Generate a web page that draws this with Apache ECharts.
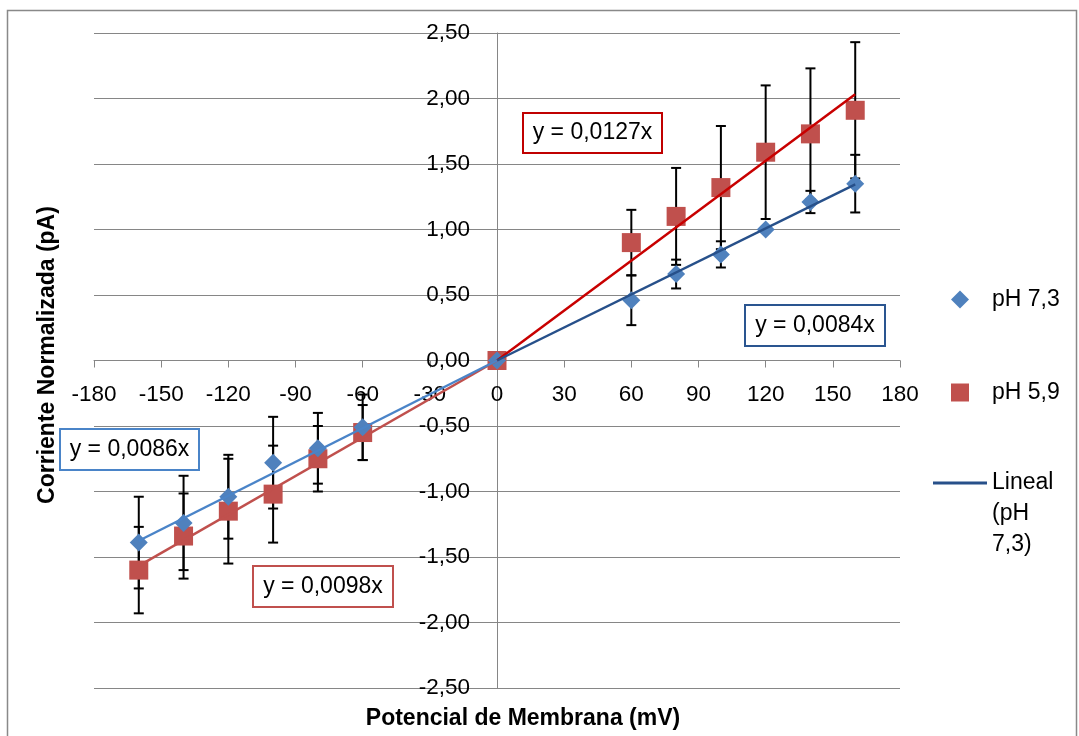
<!DOCTYPE html>
<html>
<head>
<meta charset="utf-8">
<title>Corriente normalizada vs potencial de membrana</title>
<script src="https://cdn.jsdelivr.net/npm/echarts@6/dist/echarts.min.js"></script>
<style>
  html, body { margin: 0; padding: 0; background: #ffffff; }
  #chart { width: 1079px; height: 736px; }
</style>
</head>
<body>
<div id="chart"></div>
<script>
// Membrane potential (mV) of each recording step
const potentials = [-160, -140, -120, -100, -80, -60, 0, 60, 80, 100, 120, 140, 160];

// Mean normalized current (pA) at each potential
const currentPH73 = [-1.39, -1.24, -1.04, -0.78, -0.67, -0.51, 0, 0.46, 0.66, 0.81, 1.00, 1.21, 1.35];
const currentPH59 = [-1.60, -1.34, -1.15, -1.02, -0.75, -0.55, 0, 0.90, 1.10, 1.32, 1.59, 1.73, 1.91];

// Error bar half-length (pA)
const errorPH73 = [0.35, 0.36, 0.32, 0.35, 0.27, 0.25, 0, 0.19, 0.11, 0.10, 0.02, 0.085, 0.22];
const errorPH59 = [0.33, 0.325, 0.40, 0.37, 0.25, 0.21, 0, 0.25, 0.37, 0.47, 0.51, 0.50, 0.52];

// Linear fits through the origin (slope in pA/mV), one per polarity
const fitRangeNegative = [-160, 0];
const fitRangePositive = [0, 160];
const slopePH73Negative = 0.0086;
const slopePH73Positive = 0.0084;
const slopePH59Negative = 0.0098;
const slopePH59Positive = 0.0127;

// Axis ranges
const xRange = [-180, 180];
const xStep = 30;
const yRange = [-2.5, 2.5];
const yStep = 0.5;

const FONT = "'Liberation Sans', Arial, sans-serif";
const GREY = '#868686';
const BLUE = '#4F81BD';
const RED = '#C0504D';
const BLUE_FIT_POS = '#27508A';
const RED_FIT_POS = '#C80000';
const BLUE_FIT_NEG = '#4A84C8';
const RED_FIT_NEG = '#C0504D';

// Plot area (px); both axes cross at the origin, in the middle of it
const PLOT = { left: 94, right: 179, top: 33, bottom: 48 };
const PLOT_W = 1079 - PLOT.left - PLOT.right;
const PLOT_H = 736 - PLOT.top - PLOT.bottom;

const decimalComma = (v, digits) => v.toFixed(digits).replace('.', ',');
const equationText = slope => 'y = ' + decimalComma(slope, 4) + 'x';

const fitLine = (slope, range) => range.map(x => [x, slope * x]);
const withErrors = (ys, errs) => potentials.map((x, i) => [x, ys[i], errs[i]]);

function errorBarItem(params, api) {
  const x = api.value(0);
  const y = api.value(1);
  const e = api.value(2);
  if (!e) return null;
  const top = api.coord([x, y + e]);
  const bottom = api.coord([x, y - e]);
  const cap = 5;
  const style = { stroke: '#000000', lineWidth: 2 };
  return {
    type: 'group',
    children: [
      { type: 'line', shape: { x1: top[0], y1: top[1], x2: bottom[0], y2: bottom[1] }, style: style },
      { type: 'line', shape: { x1: top[0] - cap, y1: top[1], x2: top[0] + cap, y2: top[1] }, style: style },
      { type: 'line', shape: { x1: bottom[0] - cap, y1: bottom[1], x2: bottom[0] + cap, y2: bottom[1] }, style: style }
    ]
  };
}

function equationBox(slope, left, top, width, height, color) {
  return {
    type: 'group',
    x: left,
    y: top,
    z: 100,
    children: [
      { type: 'rect', shape: { x: 0, y: 0, width: width, height: height },
        style: { fill: '#ffffff', stroke: color, lineWidth: 2 } },
      { type: 'text', x: width / 2, y: height / 2,
        style: { text: equationText(slope), font: '23px ' + FONT, fill: '#000000',
                 align: 'center', verticalAlign: 'middle', textAlign: 'center', textVerticalAlign: 'middle' } }
    ]
  };
}

const chart = echarts.init(document.getElementById('chart'), null, { renderer: 'canvas' });

const legendBase = {
  orient: 'vertical',
  padding: 0,
  itemWidth: 54,
  itemHeight: 18,
  selectedMode: false,
  itemStyle: { borderWidth: 0 },
  textStyle: { fontFamily: FONT, fontSize: 23, color: '#000000', lineHeight: 18 }
};

chart.setOption({
  animation: false,
  backgroundColor: '#ffffff',
  textStyle: { fontFamily: FONT },
  grid: { left: PLOT.left, right: PLOT.right, top: PLOT.top, bottom: PLOT.bottom, containLabel: false },
  xAxis: {
    type: 'value',
    min: xRange[0],
    max: xRange[1],
    interval: xStep,
    position: 'bottom',
    offset: -PLOT_H / 2,
    axisLine: { show: true, onZero: false, lineStyle: { color: GREY, width: 1 } },
    axisTick: { show: true, length: 7, lineStyle: { color: GREY, width: 1 } },
    axisLabel: { show: true, color: '#000000', fontSize: 22.5, fontFamily: FONT, margin: 23,
                 showMinLabel: true, showMaxLabel: true, formatter: v => String(v) },
    splitLine: { show: false }
  },
  yAxis: {
    type: 'value',
    min: yRange[0],
    max: yRange[1],
    interval: yStep,
    position: 'left',
    offset: -PLOT_W / 2,
    axisLine: { show: true, onZero: false, lineStyle: { color: GREY, width: 1 } },
    axisTick: { show: true, length: 8, lineStyle: { color: GREY, width: 1 } },
    axisLabel: { show: true, color: '#000000', fontSize: 22.5, fontFamily: FONT, margin: 27,
                 showMinLabel: true, showMaxLabel: true, formatter: v => decimalComma(v, 2) },
    splitLine: { show: true, lineStyle: { color: GREY, width: 1 } }
  },
  legend: [
    Object.assign({}, legendBase, {
      left: 951,
      top: 288,
      data: [{ name: 'pH 7,3', icon: 'path://M9,0L18,9L9,18L0,9Z' }]
    }),
    Object.assign({}, legendBase, {
      left: 951,
      top: 381,
      data: [{ name: 'pH 5,9', icon: 'path://M0,0L18,0L18,18L0,18Z' }]
    }),
    Object.assign({}, legendBase, {
      left: 933,
      top: 467.5,
      itemHeight: 93,
      data: [{ name: 'Lineal (pH 7,3)', icon: 'path://M0,14L54,14L54,17L0,17Z M0,0L0.01,0 M0,93L0.01,93' }],
      formatter: () => 'Lineal\n(pH\n7,3)',
      textStyle: { fontFamily: FONT, fontSize: 23, color: '#000000', lineHeight: 31 }
    })
  ],
  series: [
    {
      name: 'Error pH 5,9',
      type: 'custom',
      renderItem: errorBarItem,
      data: withErrors(currentPH59, errorPH59),
      encode: { x: 0, y: 1 },
      z: 2,
      silent: true
    },
    {
      name: 'Error pH 7,3',
      type: 'custom',
      renderItem: errorBarItem,
      data: withErrors(currentPH73, errorPH73),
      encode: { x: 0, y: 1 },
      z: 2,
      silent: true
    },
    {
      name: 'pH 5,9',
      type: 'scatter',
      symbol: 'rect',
      symbolSize: 19,
      itemStyle: { color: RED, opacity: 1 },
      data: potentials.map((x, i) => [x, currentPH59[i]]),
      z: 3
    },
    {
      name: 'pH 7,3',
      type: 'scatter',
      symbol: 'diamond',
      symbolSize: 18,
      itemStyle: { color: BLUE, opacity: 1 },
      data: potentials.map((x, i) => [x, currentPH73[i]]),
      z: 4
    },
    {
      name: 'Lineal (pH 5,9) +',
      type: 'line',
      symbol: 'none',
      lineStyle: { color: RED_FIT_POS, width: 2.5 },
      itemStyle: { color: RED_FIT_POS },
      data: fitLine(slopePH59Positive, fitRangePositive),
      z: 5
    },
    {
      name: 'Lineal (pH 7,3)',
      type: 'line',
      symbol: 'none',
      lineStyle: { color: BLUE_FIT_POS, width: 2.5 },
      itemStyle: { color: BLUE_FIT_POS },
      data: fitLine(slopePH73Positive, fitRangePositive),
      z: 5
    },
    {
      name: 'Lineal (pH 5,9) -',
      type: 'line',
      symbol: 'none',
      lineStyle: { color: RED_FIT_NEG, width: 2.5 },
      itemStyle: { color: RED_FIT_NEG },
      data: fitLine(slopePH59Negative, fitRangeNegative),
      z: 5
    },
    {
      name: 'Lineal (pH 7,3) -',
      type: 'line',
      symbol: 'none',
      lineStyle: { color: BLUE_FIT_NEG, width: 2.5 },
      itemStyle: { color: BLUE_FIT_NEG },
      data: fitLine(slopePH73Negative, fitRangeNegative),
      z: 5
    }
  ],
  graphic: [
    { type: 'rect', z: -10, silent: true,
      shape: { x: 7.5, y: 10.5, width: 1069, height: 760 },
      style: { fill: 'none', stroke: '#898989', lineWidth: 1.5 } },
    { type: 'text', x: 523, y: 719, z: 100,
      style: { text: 'Potencial de Membrana (mV)', font: 'bold 23px ' + FONT, fill: '#000000',
               align: 'center', verticalAlign: 'middle', textAlign: 'center', textVerticalAlign: 'middle' } },
    { type: 'text', x: 48, y: 355, rotation: Math.PI / 2, z: 100,
      style: { text: 'Corriente Normalizada (pA)', font: 'bold 23px ' + FONT, fill: '#000000',
               align: 'center', verticalAlign: 'middle', textAlign: 'center', textVerticalAlign: 'middle' } },
    equationBox(slopePH59Positive, 523, 113, 139, 40, '#C00000'),
    equationBox(slopePH73Positive, 745, 305, 140, 41, '#2A5590'),
    equationBox(slopePH73Negative, 60, 429, 139, 41, '#4A84C8'),
    equationBox(slopePH59Negative, 253, 566, 140, 41, '#C0504D')
  ]
});
</script>
</body>
</html>
